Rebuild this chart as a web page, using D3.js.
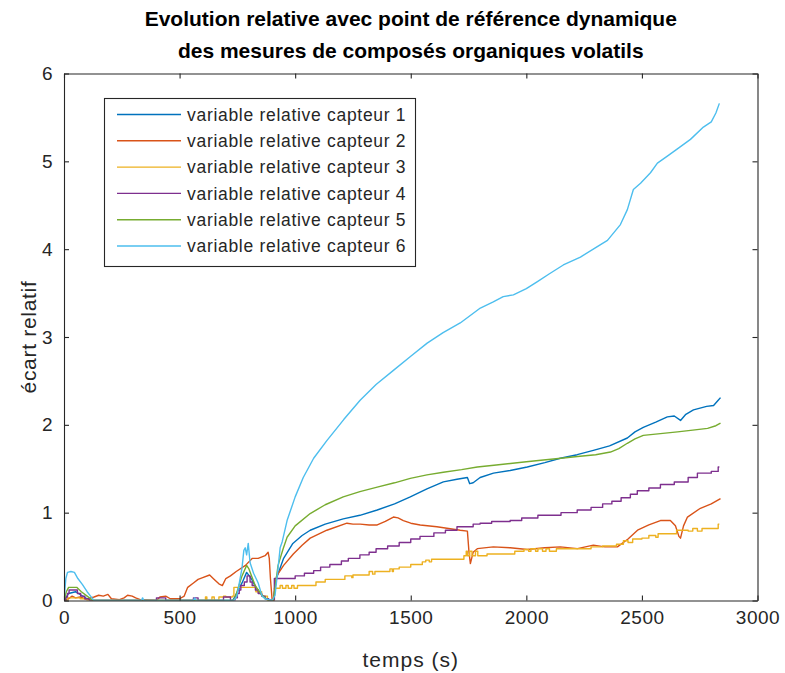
<!DOCTYPE html>
<html><head><meta charset="utf-8">
<script src="https://cdn.jsdelivr.net/npm/d3@7"></script>
<style>
html,body{margin:0;padding:0;background:#fff;}
svg{display:block;font-family:"Liberation Sans",Arial,Helvetica,sans-serif;}
</style></head>
<body><svg id="chart" width="785" height="673"></svg>
<script>
const titleLines = ["Evolution relative avec point de référence dynamique","des mesures de composés organiques volatils"];
const xLabel = "temps (s)";
const yLabel = "écart relatif";
const xTicks = [0,500,1000,1500,2000,2500,3000];
const yTicks = [0,1,2,3,4,5,6];
const seriesNames = ["variable relative capteur 1","variable relative capteur 2","variable relative capteur 3","variable relative capteur 4","variable relative capteur 5","variable relative capteur 6"];
const seriesColors = ["#0072BD","#D95319","#EDB120","#7E2F8E","#77AC30","#4DBEEE"];
const seriesStepped = [false,false,true,true,false,false];

const capteur1 = [[0,0],[20,0.08],[50,0.1],[75,0.06],[100,0.02],[120,0],[730,0],[750,0.1],[770,0.2],[790,0.32],[810,0.25],[830,0.15],[850,0.08],[875,0.02],[900,0],[905,0],[920,0.26],[950,0.48],[990,0.65],[1030,0.74],[1065,0.80],[1130,0.87],[1208,0.93],[1280,0.97],[1355,1.03],[1430,1.10],[1498,1.18],[1570,1.27],[1641,1.35],[1700,1.38],[1745,1.40],[1755,1.33],[1770,1.34],[1800,1.40],[1858,1.45],[1930,1.48],[2004,1.52],[2080,1.57],[2147,1.62],[2220,1.66],[2290,1.71],[2360,1.76],[2437,1.85],[2470,1.92],[2506,1.97],[2560,2.03],[2610,2.09],[2640,2.10],[2667,2.05],[2690,2.12],[2723,2.17],[2780,2.21],[2810,2.22],[2830,2.28],[2840,2.31]];

const capteur2 = [[0,0],[20,0.02],[35,0.05],[50,0.03],[70,0.04],[100,0.01],[115,0.03],[130,0.04],[150,0.06],[170,0.05],[190,0.07],[205,0.02],[240,0.01],[260,0.03],[275,0.06],[295,0.05],[310,0.03],[330,0.01],[400,0.0],[415,0.04],[440,0.05],[460,0.02],[500,0.02],[520,0.05],[535,0.15],[560,0.2],[580,0.24],[600,0.26],[630,0.29],[650,0.24],[670,0.19],[685,0.17],[700,0.25],[720,0.28],[745,0.33],[785,0.40],[815,0.48],[840,0.48],[870,0.51],[883,0.55],[888,0.48],[893,0.25],[900,0.02],[905,0],[920,0.28],[950,0.40],[992,0.53],[1030,0.63],[1065,0.71],[1137,0.80],[1224,0.88],[1250,0.87],[1281,0.87],[1320,0.86],[1355,0.86],[1390,0.90],[1425,0.95],[1445,0.94],[1468,0.91],[1500,0.88],[1541,0.86],[1613,0.84],[1714,0.80],[1745,0.79],[1752,0.55],[1758,0.42],[1770,0.55],[1788,0.59],[1857,0.61],[1930,0.60],[2004,0.58],[2080,0.60],[2147,0.61],[2221,0.59],[2290,0.63],[2340,0.61],[2394,0.61],[2440,0.70],[2481,0.80],[2530,0.86],[2580,0.91],[2623,0.91],[2645,0.85],[2660,0.73],[2667,0.71],[2680,0.85],[2697,0.95],[2753,1.05],[2800,1.10],[2840,1.16]];

const capteur3 = [[0,0],[15,0.03],[70,0.02],[100,0],[600,0],[612,0.04],[618,0],[640,0.04],[650,0],[670,0.04],[690,0.05],[700,0.04],[728,0.05],[735,0.15],[830,0.1],[855,0.05],[880,0],[910,0.14],[935,0.17],[945,0.14],[960,0.17],[970,0.14],[985,0.17],[995,0.14],[1010,0.17],[1090,0.21],[1130,0.24],[1215,0.28],[1245,0.26],[1250,0.29],[1320,0.33],[1335,0.30],[1345,0.33],[1410,0.36],[1420,0.33],[1425,0.36],[1450,0.38],[1500,0.41],[1550,0.44],[1565,0.46],[1580,0.44],[1590,0.47],[1730,0.51],[1740,0.56],[1745,0.51],[1755,0.56],[1765,0.51],[1780,0.56],[1790,0.51],[1830,0.53],[1950,0.56],[1990,0.58],[2010,0.56],[2020,0.59],[2040,0.56],[2050,0.59],[2070,0.56],[2085,0.59],[2100,0.56],[2130,0.59],[2280,0.61],[2330,0.62],[2390,0.64],[2420,0.68],[2440,0.66],[2460,0.70],[2500,0.71],[2530,0.74],[2560,0.72],[2570,0.76],[2650,0.80],[2700,0.79],[2720,0.82],[2740,0.79],[2760,0.82],[2790,0.82],[2830,0.87],[2835,0.87]];

const capteur4 = [[0,0],[8,0.04],[15,0.08],[22,0.12],[58,0.08],[72,0.05],[90,0.02],[110,0],[400,0.03],[440,0],[560,0.03],[580,0],[690,0.04],[720,0],[740,0.03],[750,0.08],[758,0.12],[765,0.17],[780,0.21],[792,0.28],[805,0.21],[814,0.17],[828,0.12],[840,0.08],[855,0.05],[870,0.02],[885,0],[910,0.25],[1000,0.28],[1040,0.31],[1080,0.34],[1110,0.38],[1150,0.41],[1200,0.45],[1230,0.48],[1280,0.52],[1320,0.55],[1350,0.59],[1400,0.62],[1450,0.66],[1500,0.70],[1540,0.73],[1600,0.77],[1650,0.80],[1700,0.84],[1770,0.87],[1800,0.88],[1850,0.90],[1930,0.91],[1980,0.94],[2050,0.97],[2150,1.0],[2220,1.03],[2280,1.06],[2330,1.10],[2370,1.13],[2410,1.17],[2450,1.21],[2480,1.25],[2530,1.28],[2580,1.32],[2640,1.35],[2700,1.40],[2740,1.45],[2800,1.47],[2830,1.52],[2835,1.52]];

const capteur5 = [[0,0],[10,0.1],[20,0.15],[55,0.15],[75,0.1],[100,0.05],[125,0],[730,0],[740,0.03],[770,0.28],[790,0.40],[800,0.36],[827,0.17],[857,0.06],[883,0],[905,0],[913,0.14],[926,0.40],[948,0.59],[965,0.72],[1000,0.85],[1065,0.99],[1130,1.09],[1208,1.18],[1280,1.24],[1355,1.29],[1430,1.34],[1498,1.39],[1570,1.43],[1641,1.46],[1720,1.49],[1788,1.52],[1860,1.54],[1931,1.56],[2000,1.58],[2074,1.60],[2150,1.62],[2221,1.64],[2300,1.66],[2364,1.69],[2400,1.73],[2437,1.79],[2470,1.84],[2506,1.88],[2580,1.90],[2654,1.92],[2720,1.94],[2784,1.96],[2820,1.99],[2840,2.02]];

const capteur6 = [[0,0],[8,0.25],[15,0.32],[30,0.33],[45,0.32],[60,0.25],[80,0.18],[100,0.1],[115,0.05],[130,0],[335,0],[340,0.03],[345,0],[560,0],[565,0.03],[570,0],[735,0],[748,0.05],[770,0.37],[778,0.57],[784,0.6],[790,0.52],[797,0.65],[805,0.43],[820,0.31],[840,0.2],[857,0.05],[870,0.02],[900,0],[913,0.06],[926,0.37],[935,0.6],[944,0.67],[965,0.91],[1000,1.18],[1035,1.40],[1080,1.62],[1137,1.82],[1210,2.06],[1281,2.28],[1350,2.46],[1425,2.62],[1500,2.78],[1571,2.93],[1640,3.05],[1714,3.16],[1801,3.33],[1857,3.40],[1900,3.46],[1944,3.48],[2000,3.55],[2048,3.63],[2100,3.72],[2160,3.82],[2234,3.91],[2307,4.03],[2351,4.10],[2407,4.28],[2437,4.45],[2463,4.68],[2494,4.75],[2537,4.87],[2567,4.98],[2610,5.06],[2658,5.15],[2710,5.25],[2766,5.39],[2800,5.45],[2820,5.55],[2835,5.66]];

const seriesData = [capteur1,capteur2,capteur3,capteur4,capteur5,capteur6];

const svg = d3.select("#chart");
const L = 64, R = 757.5, T = 73.5, B = 600.5;
const x = d3.scaleLinear().domain([0,3000]).range([L,R]);
const y = d3.scaleLinear().domain([0,6]).range([B,T]);
const axisColor = "#262626";
const tickLen = 5;

svg.append("rect").attr("x",L).attr("y",T).attr("width",R-L).attr("height",B-T).attr("fill","#fff");

svg.append("clipPath").attr("id","clip").append("rect").attr("x",L).attr("y",T-1).attr("width",R-L).attr("height",B-T+1);
const plot = svg.append("g").attr("clip-path","url(#clip)");
seriesData.forEach((d,i)=>{
  const line = d3.line().x(p=>x(p[0])).y(p=>y(p[1])).curve(seriesStepped[i]?d3.curveStepAfter:d3.curveLinear);
  plot.append("path").attr("d",line(d)).attr("fill","none").attr("stroke",seriesColors[i]).attr("stroke-width",1.4).attr("stroke-linejoin","round");
});

const fmt = d3.format("d");
const gB = svg.append("g").attr("transform",`translate(0,${B})`).call(d3.axisBottom(x).tickValues(xTicks).tickFormat(fmt).tickSizeInner(-tickLen).tickSizeOuter(0).tickPadding(10));
const gT = svg.append("g").attr("transform",`translate(0,${T})`).call(d3.axisTop(x).tickValues(xTicks).tickSizeInner(-tickLen).tickSizeOuter(0).tickFormat(""));
const gL = svg.append("g").attr("transform",`translate(${L},0)`).call(d3.axisLeft(y).tickValues(yTicks).tickFormat(fmt).tickSizeInner(-tickLen).tickSizeOuter(0).tickPadding(11));
const gR = svg.append("g").attr("transform",`translate(${R},0)`).call(d3.axisRight(y).tickValues(yTicks).tickSizeInner(-tickLen).tickSizeOuter(0).tickFormat(""));
[gB,gT,gL,gR].forEach(g=>{
  g.select(".domain").attr("stroke",axisColor).attr("stroke-width",1.1);
  g.selectAll(".tick line").attr("stroke",axisColor).attr("stroke-width",1.1);
  g.selectAll(".tick text").attr("fill",axisColor).style("font-size","19px").style("letter-spacing","0.5px").style("font-family","'Liberation Sans',Arial,sans-serif");
});
gB.selectAll(".tick text").attr("dy","0.71em");

const title = svg.append("text").attr("text-anchor","middle").attr("fill","#000").style("font-weight","bold").style("font-size","21px");
titleLines.forEach((t,i)=>title.append("tspan").attr("x",(L+R)/2).attr("y",26+i*32).text(t));

svg.append("text").attr("x",(L+R)/2).attr("y",667).attr("text-anchor","middle").attr("fill",axisColor).style("font-size","21px").style("letter-spacing","1px").text(xLabel);
svg.append("text").attr("transform",`translate(36,${(T+B)/2}) rotate(-90)`).attr("text-anchor","middle").attr("fill",axisColor).style("font-size","21px").style("letter-spacing","0.7px").text(yLabel);

const lg = svg.append("g");
lg.append("rect").attr("x",104.5).attr("y",98.5).attr("width",311).attr("height",168).attr("fill","#fff").attr("stroke",axisColor).attr("stroke-width",1.1);
seriesNames.forEach((n,i)=>{
  const yy = 114.5 + i*26.3;
  lg.append("line").attr("x1",117).attr("x2",181).attr("y1",yy).attr("y2",yy).attr("stroke",seriesColors[i]).attr("stroke-width",1.4);
  lg.append("text").attr("x",187).attr("y",yy).attr("dy","0.36em").attr("fill",axisColor).style("font-size","17.5px").style("letter-spacing","0.7px").text(n);
});
</script></body></html>
